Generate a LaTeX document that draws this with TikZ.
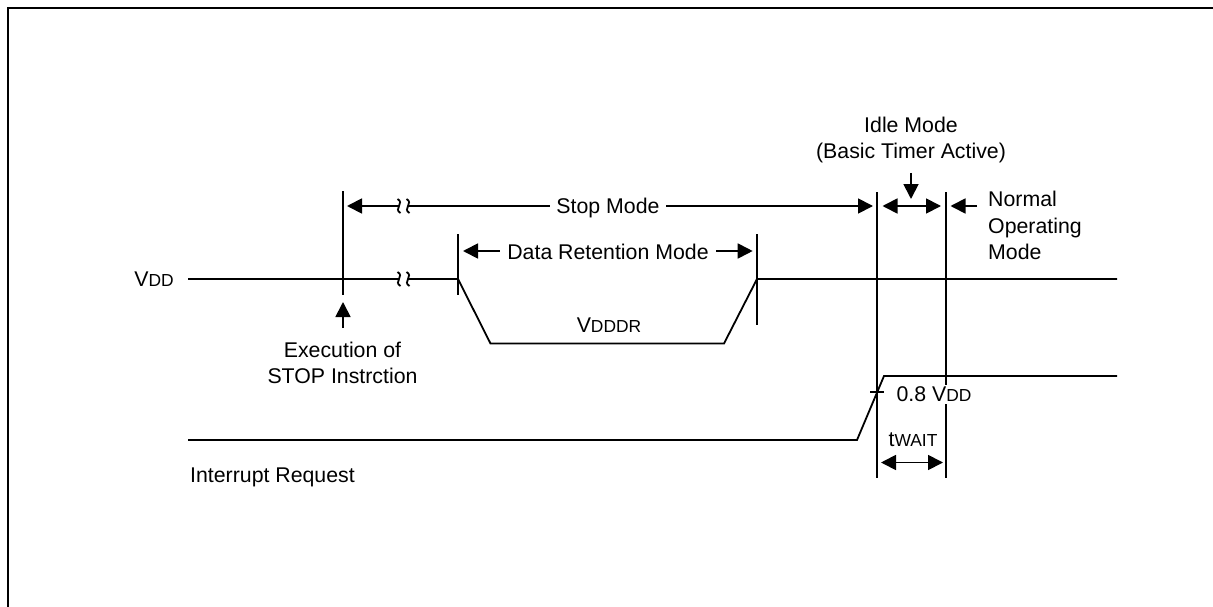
\documentclass[tikz,border=0pt]{standalone}
\usepackage{fontspec}
\setmainfont{Liberation Sans}
\usetikzlibrary{arrows.meta}
\newcommand{\subtxt}[1]{{\fontsize{17.4}{17.4}\selectfont #1}}

\begin{document}
\begin{tikzpicture}[
	x = 1pt, y = -1pt,
	sigline/.style = {line width = 1.8pt},
	frameline/.style = {line width = 2.2pt},
	dimline/.style = {line width = 1.8pt, -{Triangle[length=15pt, width=15pt]}},
	dimboth/.style = {line width = 1.8pt, {Triangle[length=15pt, width=15pt]}-{Triangle[length=15pt, width=15pt]}},
	every node/.style = {font = \fontsize{21.3}{26.5}\selectfont, inner sep = 0pt},
	lbl/.style = {align = center},
	lblleft/.style = {align = left, anchor = north west},
	brk/.pic = {\draw[sigline] (-1.5,-7) .. controls (6,-3) and (-6,3) .. (1.5,7);}]
	\useasboundingbox (0,0) rectangle (1213,607);

	% Frame
	\coordinate (fbl) at (8,607);
	\coordinate (ftl) at (8,8);
	\coordinate (ftr) at (1213,8);
	\draw[frameline] (fbl) -- (ftl) -- (ftr);

	% Markers
	\coordinate (stopT) at (343,191);
	\coordinate (stopB) at (343,295);
	\coordinate (dataLT) at (458,234);
	\coordinate (dataLB) at (458,295);
	\coordinate (dataRT) at (757,234);
	\coordinate (dataRB) at (757,325);
	\coordinate (idleLT) at (877,192);
	\coordinate (idleLB) at (877,478);
	\coordinate (idleRT) at (946,192);
	\coordinate (idleRB) at (946,478);
	\foreach \a/\b in {stopT/stopB, dataLT/dataLB, dataRT/dataRB, idleLT/idleLB, idleRT/idleRB}
		\draw[sigline] (\a) -- (\b);

	% VDD
	\node[anchor = base] (vdd) at (154,286) {V\subtxt{DD}};
	\coordinate (vddS) at (188,279);
	\coordinate (vddB1) at (399,279);
	\coordinate (vddB2) at (408,279);
	\coordinate (vddA) at (458,279);
	\coordinate (vddC) at (490.5,343.5);
	\coordinate (vddD) at (724,343.5);
	\coordinate (vddE) at (757,279);
	\coordinate (vddF) at (1117,279);
	\draw[sigline] (vddS) -- (vddB1);
	\draw[sigline] (vddB2) -- (vddA) -- (vddC) -- (vddD) -- (vddE) -- (vddF);
	\pic at (vddB1) {brk};
	\pic at (vddB2) {brk};
	\node[anchor = base] (vdddr) at (609,332) {V\subtxt{DDDR}};

	% Interrupt
	\coordinate (intS) at (188,440);
	\coordinate (intA) at (857,440);
	\coordinate (intB) at (884,376);
	\coordinate (intC) at (1117,376);
	\draw[sigline] (intS) -- (intA) -- (intB) -- (intC);
	\coordinate (tickL) at (870,392);
	\coordinate (tickR) at (884,392);
	\draw[sigline] (tickL) -- (tickR);
	\node[anchor = base west] (intreq) at (190,482) {Interrupt Request};
	\node[anchor = base, fill = white, inner ysep = 2pt] (level) at (934,401.7) {0.8 V\subtxt{DD}};

	% Stop Mode
	\node[anchor = base, minimum width = 116pt] (stoplbl) at (608,213) {Stop Mode};
	\coordinate (stopB1) at (399,206);
	\coordinate (stopB2) at (408,206);
	\coordinate (stopTip) at (347,206);
	\coordinate (stopEnd) at (873,206);
	\coordinate (stopL) at (stoplbl.west |- stopB1);
	\coordinate (stopR) at (stoplbl.east |- stopB1);
	\draw[dimline] (stopB1) -- (stopTip);
	\draw[sigline] (stopB2) -- (stopL);
	\draw[dimline] (stopR) -- (stopEnd);
	\pic at (stopB1) {brk};
	\pic at (stopB2) {brk};

	% Data Retention Mode
	\node[anchor = base, minimum width = 216pt] (datalbl) at (608,259) {Data Retention Mode};
	\coordinate (dataTipL) at (463,251);
	\coordinate (dataTipR) at (752.7,251);
	\coordinate (dataL) at (datalbl.west |- dataTipL);
	\coordinate (dataR) at (datalbl.east |- dataTipR);
	\draw[dimline] (dataL) -- (dataTipL);
	\draw[dimline] (dataR) -- (dataTipR);

	% Idle Mode
	\node[lbl] (idlelbl) at (911,140) {Idle Mode\\(Basic Timer Active)};
	\coordinate (idleTail) at (911,173);
	\coordinate (idleTip) at (911,199);
	\draw[dimline] (idleTail) -- (idleTip);
	\coordinate (idleA) at (882.5,206);
	\coordinate (idleB) at (941,206);
	\draw[dimboth] (idleA) -- (idleB);

	% Normal mode
	\node[lblleft] (normlbl) at (988,191) {Normal\\Operating\\Mode};
	\coordinate (normTail) at (977,206);
	\coordinate (normTip) at (950.5,206);
	\draw[dimline] (normTail) -- (normTip);

	% Execution
	\node[lbl] (execlbl) at (342.5,363) {Execution of\\STOP Instrction};
	\coordinate (execTail) at (343,328);
	\coordinate (execTip) at (343,302);
	\draw[dimline] (execTail) -- (execTip);

	% Wait
	\node[anchor = base] (waitlbl) at (913,446.7) {t\subtxt{WAIT}};
	\coordinate (waitA) at (881,462.5);
	\coordinate (waitB) at (943,462.5);
	\draw[dimboth] (waitA) -- (waitB);
\end{tikzpicture}
\end{document}
